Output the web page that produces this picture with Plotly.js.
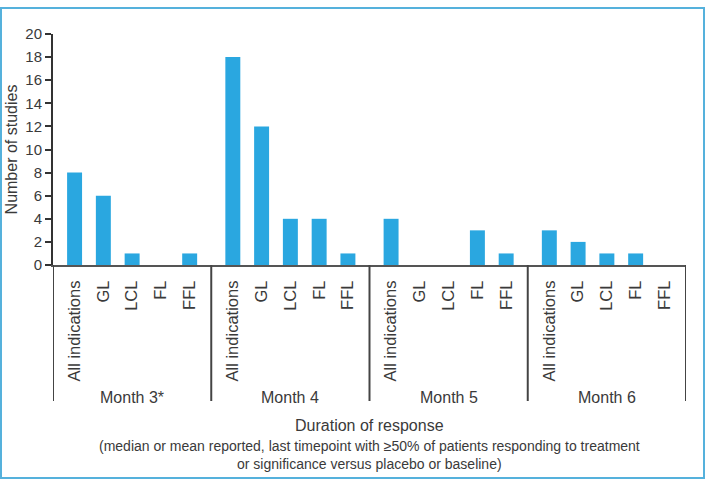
<!DOCTYPE html>
<html>
<head>
<meta charset="utf-8">
<script src="https://cdn.plot.ly/plotly-3.0.1.min.js"></script>
<style>
  html, body { margin: 0; padding: 0; background: #ffffff; }
  #wrap { position: relative; width: 706px; height: 481px; }
  #chart { position: absolute; left: 0; top: 0; width: 706px; height: 481px; }
  #frame { position: absolute; left: 0px; top: 7px; width: 701px; height: 468px;
           border: 2px solid #55b1dc; pointer-events: none; }
</style>
</head>
<body>
<div id="wrap">
  <div id="chart"></div>
  <div id="frame"></div>
</div>
<script>
// ---- data ----
const groups = ['Month 3*', 'Month 4', 'Month 5', 'Month 6'];
const categories = ['All indications', 'GL', 'LCL', 'FL', 'FFL'];
const month3 = [8, 6, 1, 0, 1];
const month4 = [18, 12, 4, 4, 1];
const month5 = [4, 0, 0, 3, 1];
const month6 = [3, 2, 1, 1, 0];
const seriesByGroup = [month3, month4, month5, month6];
const yTicks = [0, 2, 4, 6, 8, 10, 12, 14, 16, 18, 20];
const xTitle = 'Duration of response';
const xNote1 = '(median or mean reported, last timepoint with \u226550% of patients responding to treatment';
const xNote2 = 'or significance versus placebo or baseline)';
const yTitle = 'Number of studies';

// ---- layout helpers (positions, not data) ----
const groupStep = categories.length + 0.5;   // slot units per group incl. gap
const pad = 0.75;
const xs = [], ys = [], tickText = [];
seriesByGroup.forEach((vals, g) => {
  vals.forEach((v, k) => {
    xs.push(g * groupStep + k);
    ys.push(v);
    tickText.push(categories[k]);
  });
});
const xMin = -pad;
const xMax = (groups.length - 1) * groupStep + (categories.length - 1) + pad;

const font = 'Liberation Sans, Arial, Helvetica, sans-serif';
const txt = '#3a3a3a';

const M = { l: 53, r: 20, t: 34, b: 216 };
const plotH = 481 - M.t - M.b;
const py = (Y) => (481 - M.b - Y) / plotH;   // pixel row -> paper y

const shapes = [];
for (let g = 0; g <= groups.length; g++) {
  const xb = g === groups.length ? xMax : g * groupStep - pad;
  shapes.push({ type: 'line', xref: 'x', yref: 'paper', x0: xb, x1: xb,
                y0: 0, y1: py(401), line: { color: '#444444', width: 2 } });
}

const annotations = groups.map((name, g) => ({
  xref: 'x', yref: 'paper', x: g * groupStep + (categories.length - 1) / 2, y: py(397),
  text: name, showarrow: false, xanchor: 'center', yanchor: 'middle',
  font: { family: font, size: 16, color: txt }
}));
annotations.push({ xref: 'paper', yref: 'paper', x: 0.5, y: py(425), text: xTitle,
  showarrow: false, xanchor: 'center', yanchor: 'middle', font: { family: font, size: 16, color: txt } });
annotations.push({ xref: 'paper', yref: 'paper', x: 0.5, y: py(446), text: xNote1,
  showarrow: false, xanchor: 'center', yanchor: 'middle', font: { family: font, size: 14, color: txt } });
annotations.push({ xref: 'paper', yref: 'paper', x: 0.5, y: py(464), text: xNote2,
  showarrow: false, xanchor: 'center', yanchor: 'middle', font: { family: font, size: 14, color: txt } });

const trace = {
  type: 'bar', x: xs, y: ys, width: 0.52,
  marker: { color: '#2aa7e0', line: { width: 0 } },
  hoverinfo: 'skip'
};

const layout = {
  width: 706, height: 481,
  margin: M,
  paper_bgcolor: '#ffffff', plot_bgcolor: '#ffffff',
  showlegend: false,
  font: { family: font, color: txt },
  xaxis: {
    range: [xMin, xMax], tickmode: 'array', tickvals: xs, ticktext: tickText,
    tickangle: -90, ticks: '', ticklabelstandoff: 7,
    tickfont: { family: font, size: 16.5, color: txt },
    showgrid: false, zeroline: false,
    showline: true, linecolor: '#555555', linewidth: 2, fixedrange: true
  },
  yaxis: {
    range: [0, 20], tickmode: 'array', tickvals: yTicks,
    ticks: 'outside', ticklen: 6, tickwidth: 2, tickcolor: '#333333',
    tickfont: { family: font, size: 15, color: txt },
    showgrid: false, zeroline: false,
    showline: true, linecolor: '#333333', linewidth: 2,
    title: { text: yTitle, font: { family: font, size: 16, color: txt }, standoff: 4 },
    fixedrange: true
  },
  shapes: shapes,
  annotations: annotations
};

Plotly.newPlot('chart', [trace], layout, { displayModeBar: false, staticPlot: true });
</script>
</body>
</html>
